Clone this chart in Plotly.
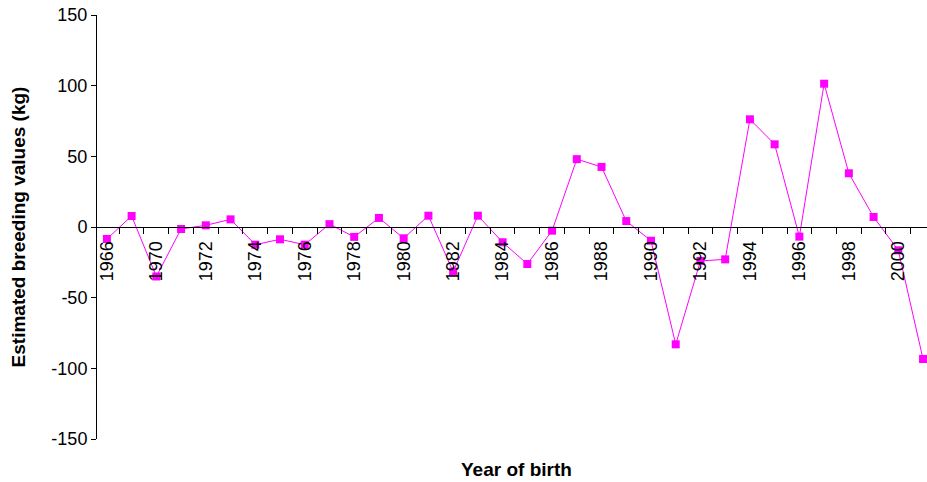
import plotly.graph_objects as go

years = ["1966", "1968"] + [str(y) for y in range(1970, 2002)]
values = [-8.5, 7.8, -35, -1.4, 1.2, 5.4, -12.5, -8.7, -12.5, 2, -7, 6.4, -8, 8,
          -31.6, 8, -10.8, -26.2, -2.6, 48, 42.5, 4.2, -9.7, -83, -24, -22.9,
          76.2, 58.5, -6.8, 101.4, 38, 7.1, -16.5, -93.4]
y_ticks = [-150, -100, -50, 0, 50, 100, 150]
y_tick_text = [str(v) for v in y_ticks]

idx = list(range(len(years)))
label_idx = idx[::2]
label_text = [years[i] for i in label_idx]
boundaries = [i + 0.5 for i in idx[:-1]]

FONT = "Liberation Sans, Arial, sans-serif"

fig = go.Figure(go.Scatter(
    x=idx, y=values, mode="lines+markers",
    line=dict(color="#FF00FF", width=1),
    marker=dict(symbol="square", size=8, color="#FF00FF"),
    cliponaxis=False,
))

fig.update_layout(
    width=927, height=482,
    margin=dict(l=97, r=0, t=15, b=43, autoexpand=False),
    paper_bgcolor="white", plot_bgcolor="white",
    showlegend=False,
    font=dict(family=FONT, size=18, color="black"),
    xaxis=dict(
        range=[-0.4, 33.16], automargin=False,
        anchor="free", position=0.5,
        showline=True, linecolor="black", linewidth=1,
        showgrid=False, zeroline=False,
        tickmode="array", tickvals=label_idx, ticktext=label_text,
        tickangle=-90, ticks="outside", ticklen=6, tickcolor="rgba(0,0,0,0)",
        tickfont=dict(family=FONT, size=18, color="black"),
        minor=dict(tickmode="array", tickvals=boundaries, ticks="outside",
                   ticklen=6, tickcolor="black", showgrid=False),
    ),
    yaxis=dict(
        range=[-150, 150], automargin=False,
        tickmode="array", tickvals=y_ticks, ticktext=y_tick_text,
        showline=True, linecolor="black", linewidth=1,
        showgrid=False, zeroline=False,
        ticks="outside", ticklen=5, tickcolor="black",
        tickfont=dict(family=FONT, size=18, color="black"),
        title=dict(text="<b>Estimated breeding values (kg)</b>",
                   font=dict(family=FONT, size=19, color="black"), standoff=20),
    ),
    annotations=[dict(
        text="<b>Year of birth</b>", xref="paper", yref="paper",
        x=0.505, y=-0.073, xanchor="center", yanchor="middle",
        showarrow=False, font=dict(family=FONT, size=19, color="black"),
    )],
)

fig.write_html("out.html", config={"displayModeBar": False},
               post_script="document.body.style.margin='0';document.body.style.overflow='hidden';")
